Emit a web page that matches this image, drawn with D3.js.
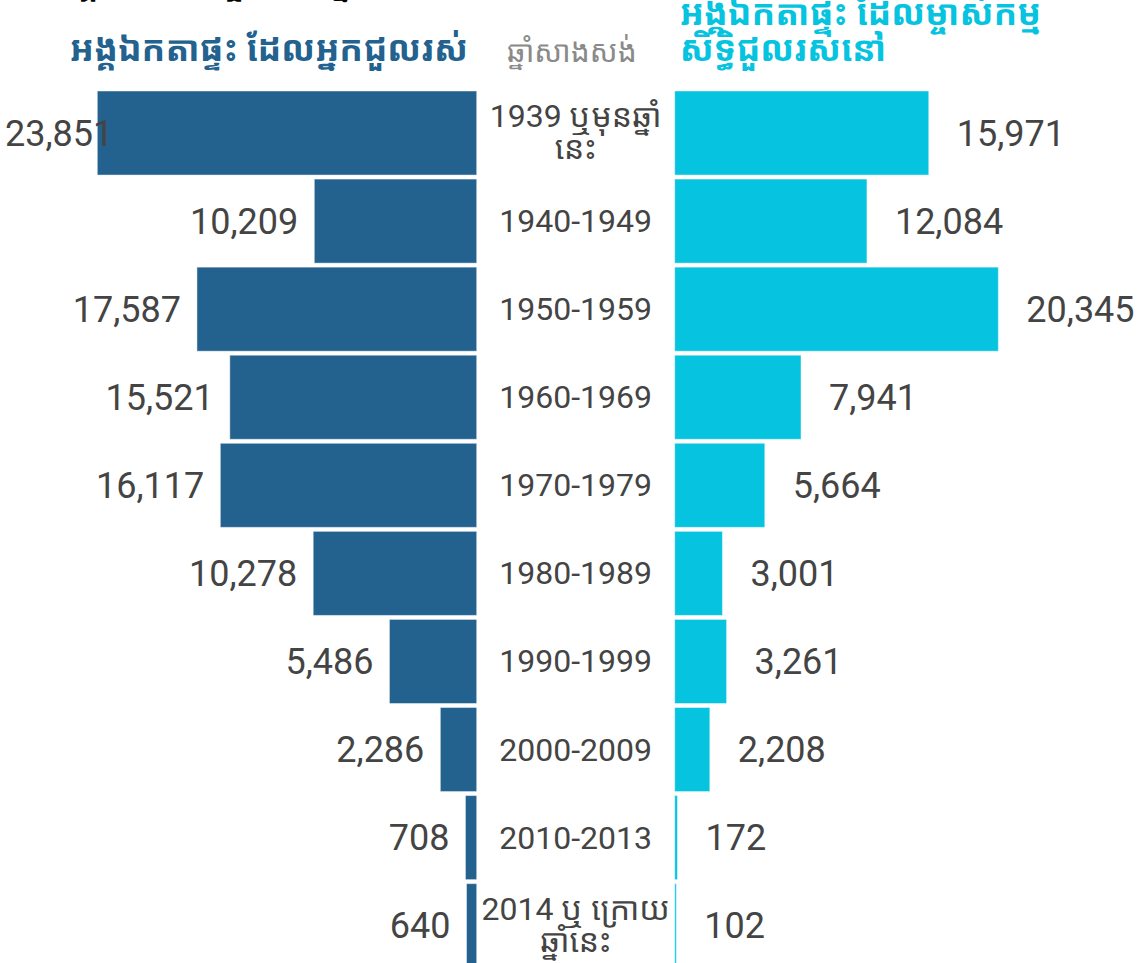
<!DOCTYPE html>
<html>
<head>
<meta charset="utf-8">
<script src="https://cdn.jsdelivr.net/npm/d3@7"></script>
<style>
  html, body { margin: 0; padding: 0; background: #fff; }
  svg { display: block; }
  text { font-family: Roboto, "Noto Sans Khmer", "Noto Sans", sans-serif; }
</style>
</head>
<body>
<svg id="chart" width="1138" height="963"></svg>
<script>
// ---- data ----
const categories = [
  ["1939 ឬមុនឆ្នាំ", "នេះ"],
  ["1940-1949"],
  ["1950-1959"],
  ["1960-1969"],
  ["1970-1979"],
  ["1980-1989"],
  ["1990-1999"],
  ["2000-2009"],
  ["2010-2013"],
  ["2014 ឬ ក្រោយ", "ឆ្នាំនេះ"]
];
const renterValues = [23851, 10209, 17587, 15521, 16117, 10278, 5486, 2286, 708, 640];
const ownerValues  = [15971, 12084, 20345, 7941, 5664, 3001, 3261, 2208, 172, 102];
const titleText = "អង្គភាពលំនៅដ្ឋានតាមឆ្នាំសាងសង់";
const leftHeader = "អង្គឯកតាផ្ទះ ដែលអ្នកជួលរស់";
const centerHeader = "ឆ្នាំសាងសង់";
const rightHeader = ["អង្គឯកតាផ្ទះ ដែលម្ចាស់កម្ម", "សិទ្ធិជួលរស់នៅ"];

// ---- layout ----
const svg = d3.select("#chart");
const leftColor = "#23618f";
const rightColor = "#06c3df";
const textColor = "#444444";

const centerLeft = 476.7, centerRight = 674.7;
const centerX = (centerLeft + centerRight) / 2;
const plotTop = 91, step = 87.67, barH = 83.67;

const idx = d3.range(categories.length);
const y = d3.scaleBand().domain(idx).range([plotTop, plotTop + step * idx.length])
  .paddingInner((step - barH) / step).paddingOuter(0).align(0);

const x = d3.scaleLinear().domain([0, 23851]).range([0, 379.4]);

const fmt = d3.format(",");

// title (mostly cut off at top)
svg.append("text")
  .attr("x", 55).attr("y", -7)
  .attr("font-size", 32).attr("font-weight", "bold")
  .attr("fill", "#000")
  .text(titleText);

// headers
svg.append("text")
  .attr("x", 468).attr("y", 61)
  .attr("text-anchor", "end")
  .attr("font-size", 35).attr("font-weight", "bold")
  .attr("fill", leftColor)
  .text(leftHeader);

svg.append("text")
  .attr("x", centerX - 4).attr("y", 62)
  .attr("text-anchor", "middle")
  .attr("font-size", 30)
  .attr("fill", "#8a8a8a")
  .text(centerHeader);

const rh = svg.append("text")
  .attr("font-size", 35).attr("font-weight", "bold")
  .attr("fill", rightColor);
rightHeader.forEach((t, i) => {
  rh.append("tspan").attr("x", centerRight + 5).attr("y", 25 + i * 36).text(t);
});

// left bars
svg.append("g").selectAll("rect")
  .data(renterValues)
  .join("rect")
  .attr("x", d => centerLeft - x(d))
  .attr("y", (d, i) => y(i))
  .attr("width", d => x(d))
  .attr("height", y.bandwidth())
  .attr("fill", leftColor)
  .attr("stroke", "rgba(255,255,255,0.45)")
  .attr("stroke-width", 1);

// right bars
svg.append("g").selectAll("rect")
  .data(ownerValues)
  .join("rect")
  .attr("x", centerRight)
  .attr("y", (d, i) => y(i))
  .attr("width", d => x(d))
  .attr("height", y.bandwidth())
  .attr("fill", rightColor)
  .attr("stroke", "rgba(255,255,255,0.45)")
  .attr("stroke-width", 1);

// left value labels
svg.append("g").selectAll("text")
  .data(renterValues)
  .join("text")
  .attr("font-size", 36)
  .attr("fill", textColor)
  .attr("y", (d, i) => y(i) + y.bandwidth() / 2)
  .attr("dy", "0.35em")
  .text(d => fmt(d))
  .each(function(d) {
    const w = this.getComputedTextLength();
    const endX = Math.max(centerLeft - x(d) - 16, 5 + w);
    d3.select(this).attr("x", endX).attr("text-anchor", "end");
  });

// right value labels
svg.append("g").selectAll("text")
  .data(ownerValues)
  .join("text")
  .attr("font-size", 36)
  .attr("fill", textColor)
  .attr("x", d => centerRight + x(d) + 28)
  .attr("y", (d, i) => y(i) + y.bandwidth() / 2)
  .attr("dy", "0.35em")
  .text(d => fmt(d));

// category labels
const cg = svg.append("g").selectAll("text")
  .data(categories)
  .join("text")
  .attr("font-size", 32)
  .attr("fill", textColor)
  .attr("text-anchor", "middle");
cg.each(function(lines, i) {
  const cy = y(i) + y.bandwidth() / 2;
  const t = d3.select(this);
  if (lines.length === 1) {
    t.append("tspan").attr("x", centerX).attr("y", cy + 11).text(lines[0]);
  } else {
    lines.forEach((l, j) => {
      t.append("tspan").attr("x", centerX).attr("y", cy - 6 + j * 32).text(l);
    });
  }
});
</script>
</body>
</html>
